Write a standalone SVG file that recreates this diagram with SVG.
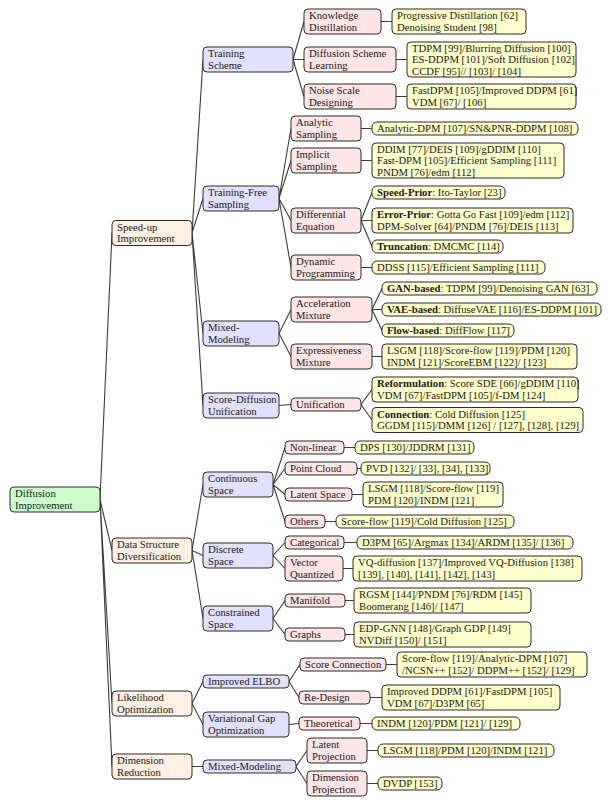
<svg xmlns="http://www.w3.org/2000/svg" width="612" height="807" viewBox="0 0 612 807">
<style>
rect{stroke:#2b2b2b;stroke-width:1}
.n0{fill:#ccffcc}.n1{fill:#fff0e1}.n2{fill:#e1e1ff}.n3{fill:#ffe5e5}.lf{fill:#ffffcc}
text{font-family:"Liberation Serif","Times New Roman",serif;font-size:10.7px;fill:#1a1a1a}
.b{font-weight:bold}
#edges path{fill:none;stroke:#3c3c3c;stroke-width:1.1}
</style>
<rect width="612" height="807" fill="#fff" style="stroke:none"/>
<g id="edges"><path d="M100,499.5L112,233M100,499.5L112,550.5M100,499.5L112,703.5M100,499.5L112,766.5
M192,233L203,59.5M192,233L203,198.5M192,233L203,333.5M192,233L203,405.5
M293,59.5L304,21.5M293,59.5L304,59.5M293,59.5L304,96.5
M381,21.5L392,21.5M396,59.5L407,59.5M396,96.5L407,96.5
M279,198.5L291,128.5M279,198.5L291,160.5M279,198.5L291,220.5M279,198.5L291,267.5
M361,128.5L372,128.5M361,160.5L372,160.5M361,267.5L372,267.5
M361,220.5L372,192.5M361,220.5L372,220.5M361,220.5L372,246.5
M279,333.5L291,309.5M279,333.5L291,356.5
M372,309.5L382,288.5M372,309.5L382,309.5M372,309.5L382,330.5M372,356.5L382,356.5
M279,405.5L291,404.5M361,404.5L372,389.5M361,404.5L372,420
M192,550.5L203,484.5M192,550.5L203,555.5M192,550.5L203,618.5
M273,484.5L285,447.5M273,484.5L285,468.5M273,484.5L285,494.5M273,484.5L285,521.5
M344,447.5L355,447.5M357,468.5L361,468.5M352,494.5L363,494.5M325,521.5L336,521.5
M273,555.5L285,542.5M273,555.5L285,568.5M344,542.5L357,542.5M343,568.5L353,568.5
M273,618.5L285,600.5M273,618.5L285,634.5M345,600.5L354,600.5M345,634.5L354,634.5
M192,703.5L203,681.5M192,703.5L203,724.5
M289,681.5L300,664.5M289,681.5L299,697.5M386,664.5L397,664.5M370,697.5L382,697.5
M289,724.5L299,723.5M360,723.5L372,723.5
M192,766.5L203,766.5M296,766.5L307,750.5M296,766.5L307,783.5
M367,750.5L378,750.5M367,783.5L378,783.5"/></g>

<g id="root"><rect class="n0" x="10" y="487" width="90" height="25" rx="4"/><text x="15" y="497">Diffusion</text><text x="15" y="508.5">Improvement</text></g>

<g id="speedup"><rect class="n1" x="112" y="220.5" width="80" height="25" rx="4"/><text x="117" y="230.5">Speed-up</text><text x="117" y="242">Improvement</text></g>
<g id="datastruct"><rect class="n1" x="112" y="538" width="80" height="25" rx="4"/><text x="117" y="548">Data Structure</text><text x="117" y="559.5">Diversification</text></g>
<g id="likelihood"><rect class="n1" x="112" y="691" width="80" height="25" rx="4"/><text x="117" y="701">Likelihood</text><text x="117" y="712.5">Optimization</text></g>
<g id="dimred"><rect class="n1" x="112" y="754" width="80" height="25" rx="4"/><text x="117" y="764">Dimension</text><text x="117" y="775.5">Reduction</text></g>

<g id="trainscheme"><rect class="n2" x="203" y="47" width="90" height="25" rx="4"/><text x="208" y="57">Training</text><text x="208" y="68.5">Scheme</text></g>
<g id="trainfree"><rect class="n2" x="203" y="186" width="76" height="25" rx="4"/><text x="208" y="196">Training-Free</text><text x="208" y="207.5">Sampling</text></g>
<g id="mixed1"><rect class="n2" x="203" y="321" width="76" height="25" rx="4"/><text x="208" y="331">Mixed-</text><text x="208" y="342.5">Modeling</text></g>
<g id="scorediff"><rect class="n2" x="203" y="393" width="76" height="25" rx="4"/><text x="208" y="403">Score-Diffusion</text><text x="208" y="414.5">Unification</text></g>
<g id="continuous"><rect class="n2" x="203" y="472" width="70" height="25" rx="4"/><text x="208" y="482">Continuous</text><text x="208" y="493.5">Space</text></g>
<g id="discrete"><rect class="n2" x="203" y="543" width="70" height="25" rx="4"/><text x="208" y="553">Discrete</text><text x="208" y="564.5">Space</text></g>
<g id="constrained"><rect class="n2" x="203" y="606" width="70" height="25" rx="4"/><text x="208" y="616">Constrained</text><text x="208" y="627.5">Space</text></g>
<g id="elbo"><rect class="n2" x="203" y="675" width="86" height="13" rx="4"/><text x="208" y="685">Improved ELBO</text></g>
<g id="vargap"><rect class="n2" x="203" y="712" width="86" height="25" rx="4"/><text x="208" y="722">Variational Gap</text><text x="208" y="733.5">Optimization</text></g>
<g id="mixed2"><rect class="n2" x="203" y="760" width="93" height="13" rx="4"/><text x="208" y="770">Mixed-Modeling</text></g>

<g id="knowdist"><rect class="n3" x="304" y="9" width="77" height="25" rx="4"/><text x="309" y="19">Knowledge</text><text x="309" y="30.5">Distillation</text></g>
<g id="dsl"><rect class="n3" x="304" y="47" width="92" height="25" rx="4"/><text x="309" y="57">Diffusion Scheme</text><text x="309" y="68.5">Learning</text></g>
<g id="nsd"><rect class="n3" x="304" y="84" width="92" height="25" rx="4"/><text x="309" y="94">Noise Scale</text><text x="309" y="105.5">Designing</text></g>
<g id="analytic"><rect class="n3" x="291" y="116" width="70" height="25" rx="4"/><text x="296" y="126">Analytic</text><text x="296" y="137.5">Sampling</text></g>
<g id="implicit"><rect class="n3" x="291" y="148" width="70" height="25" rx="4"/><text x="296" y="158">Implicit</text><text x="296" y="169.5">Sampling</text></g>
<g id="diffeq"><rect class="n3" x="291" y="208" width="70" height="25" rx="4"/><text x="296" y="218">Differential</text><text x="296" y="229.5">Equation</text></g>
<g id="dynprog"><rect class="n3" x="291" y="255" width="70" height="25" rx="4"/><text x="296" y="265">Dynamic</text><text x="296" y="276.5">Programming</text></g>
<g id="accmix"><rect class="n3" x="291" y="297" width="81" height="25" rx="4"/><text x="296" y="307">Acceleration</text><text x="296" y="318.5">Mixture</text></g>
<g id="expmix"><rect class="n3" x="291" y="344" width="81" height="25" rx="4"/><text x="296" y="354">Expressiveness</text><text x="296" y="365.5">Mixture</text></g>
<g id="unification"><rect class="n3" x="291" y="398" width="70" height="13" rx="4"/><text x="296" y="408">Unification</text></g>
<g id="nonlinear"><rect class="n3" x="285" y="441" width="59" height="13" rx="4"/><text x="290" y="451">Non-linear</text></g>
<g id="pointcloud"><rect class="n3" x="285" y="462" width="72" height="13" rx="4"/><text x="290" y="472">Point Cloud</text></g>
<g id="latentspace"><rect class="n3" x="285" y="488" width="67" height="13" rx="4"/><text x="290" y="498">Latent Space</text></g>
<g id="others"><rect class="n3" x="285" y="515" width="40" height="13" rx="4"/><text x="290" y="525">Others</text></g>
<g id="categorical"><rect class="n3" x="285" y="536" width="59" height="13" rx="4"/><text x="290" y="546">Categorical</text></g>
<g id="vq"><rect class="n3" x="285" y="556" width="58" height="25" rx="4"/><text x="290" y="566">Vector</text><text x="290" y="577.5">Quantized</text></g>
<g id="manifold"><rect class="n3" x="285" y="594" width="60" height="13" rx="4"/><text x="290" y="604">Manifold</text></g>
<g id="graphs"><rect class="n3" x="285" y="628" width="60" height="13" rx="4"/><text x="290" y="638">Graphs</text></g>
<g id="scoreconn"><rect class="n3" x="300" y="658" width="86" height="13" rx="4"/><text x="305" y="668">Score Connection</text></g>
<g id="redesign"><rect class="n3" x="299" y="691" width="71" height="13" rx="4"/><text x="304" y="701">Re-Design</text></g>
<g id="theoretical"><rect class="n3" x="299" y="717" width="61" height="13" rx="4"/><text x="304" y="727">Theoretical</text></g>
<g id="latentproj"><rect class="n3" x="307" y="738" width="60" height="25" rx="4"/><text x="312" y="748">Latent</text><text x="312" y="759.5">Projection</text></g>
<g id="dimproj"><rect class="n3" x="307" y="771" width="60" height="25" rx="4"/><text x="312" y="781">Dimension</text><text x="312" y="792.5">Projection</text></g>

<g id="leaf1"><rect class="lf" x="392" y="9" width="134" height="25" rx="4"/><text x="397" y="19">Progressive Distillation [62]</text><text x="397" y="30.5">Denoising Student [98]</text></g>
<g id="leaf2"><rect class="lf" x="407" y="42" width="169" height="35" rx="4"/><text x="412" y="51.5">TDPM [99]/Blurring Diffusion [100]</text><text x="412" y="63">ES-DDPM [101]/Soft Diffusion [102]</text><text x="412" y="74.5">CCDF [95]// [103]/ [104]</text></g>
<g id="leaf3"><rect class="lf" x="407" y="84" width="169" height="25" rx="4"/><text x="412" y="94">FastDPM [105]/Improved DDPM [61]</text><text x="412" y="105.5">VDM [67]/ [106]</text></g>
<g id="leaf4"><rect class="lf" x="372" y="122" width="206" height="13" rx="5"/><text x="377" y="132">Analytic-DPM [107]/SN&amp;PNR-DDPM [108]</text></g>
<g id="leaf5"><rect class="lf" x="372" y="143" width="192" height="35" rx="4"/><text x="377" y="152.5">DDIM [77]/DEIS [109]/gDDIM [110]</text><text x="377" y="164">Fast-DPM [105]/Efficient Sampling [111]</text><text x="377" y="175.5">PNDM [76]/edm [112]</text></g>
<g id="leaf6"><rect class="lf" x="372" y="186" width="133" height="13" rx="5"/><text x="377" y="196"><tspan class="b">Speed-Prior</tspan>: Ito-Taylor [23]</text></g>
<g id="leaf7"><rect class="lf" x="372" y="208" width="201" height="25" rx="4"/><text x="377" y="218"><tspan class="b">Error-Prior</tspan>: Gotta Go Fast [109]/edm [112]</text><text x="377" y="229.5">DPM-Solver [64]/PNDM [76]/DEIS [113]</text></g>
<g id="leaf8"><rect class="lf" x="372" y="240" width="131" height="13" rx="5"/><text x="377" y="250"><tspan class="b">Truncation</tspan>: DMCMC [114]</text></g>
<g id="leaf9"><rect class="lf" x="372" y="261" width="173" height="13" rx="5"/><text x="377" y="271">DDSS [115]/Efficient Sampling [111]</text></g>
<g id="leaf10"><rect class="lf" x="382" y="282" width="215" height="13" rx="5"/><text x="387" y="292"><tspan class="b">GAN-based</tspan>: TDPM [99]/Denoising GAN [63]</text></g>
<g id="leaf11"><rect class="lf" x="382" y="303" width="219" height="13" rx="5"/><text x="387" y="313"><tspan class="b">VAE-based</tspan>: DiffuseVAE [116]/ES-DDPM [101]</text></g>
<g id="leaf12"><rect class="lf" x="382" y="324" width="132" height="13" rx="5"/><text x="387" y="334"><tspan class="b">Flow-based</tspan>: DiffFlow [117]</text></g>
<g id="leaf13"><rect class="lf" x="382" y="344" width="195" height="25" rx="4"/><text x="387" y="354">LSGM [118]/Score-flow [119]/PDM [120]</text><text x="387" y="365.5">INDM [121]/ScoreEBM [122]/ [123]</text></g>
<g id="leaf14"><rect class="lf" x="372" y="377" width="206" height="25" rx="4"/><text x="377" y="387"><tspan class="b">Reformulation</tspan>: Score SDE [66]/gDDIM [110]</text><text x="377" y="398.5">VDM [67]/FastDPM [105]/f-DM [124]</text></g>
<g id="leaf15"><rect class="lf" x="372" y="407.5" width="211" height="25" rx="4"/><text x="377" y="417.5"><tspan class="b">Connection</tspan>: Cold Diffusion [125]</text><text x="377" y="429">GGDM [115]/DMM [126] / [127], [128], [129]</text></g>
<g id="leaf16"><rect class="lf" x="355" y="441" width="119" height="13" rx="5"/><text x="360" y="451">DPS [130]/JDDRM [131]</text></g>
<g id="leaf17"><rect class="lf" x="361" y="462" width="129" height="13" rx="5"/><text x="366" y="472">PVD [132]/ [33], [34], [133]</text></g>
<g id="leaf18"><rect class="lf" x="363" y="482" width="140" height="25" rx="4"/><text x="368" y="492">LSGM [118]/Score-flow [119]</text><text x="368" y="503.5">PDM [120]/INDM [121]</text></g>
<g id="leaf19"><rect class="lf" x="336" y="515" width="178" height="13" rx="5"/><text x="341" y="525">Score-flow [119]/Cold Diffusion [125]</text></g>
<g id="leaf20"><rect class="lf" x="357" y="536" width="216" height="13" rx="5"/><text x="362" y="546">D3PM [65]/Argmax [134]/ARDM [135]/ [136]</text></g>
<g id="leaf21"><rect class="lf" x="353" y="556" width="229" height="25" rx="4"/><text x="358" y="566">VQ-diffusion [137]/Improved VQ-Diffusion [138]</text><text x="358" y="577.5">[139], [140], [141], [142], [143]</text></g>
<g id="leaf22"><rect class="lf" x="354" y="588" width="177" height="25" rx="4"/><text x="359" y="598">RGSM [144]/PNDM [76]/RDM [145]</text><text x="359" y="609.5">Boomerang [146]/ [147]</text></g>
<g id="leaf23"><rect class="lf" x="354" y="622" width="177" height="25" rx="4"/><text x="359" y="632">EDP-GNN [148]/Graph GDP [149]</text><text x="359" y="643.5">NVDiff [150]/ [151]</text></g>
<g id="leaf24"><rect class="lf" x="397" y="652" width="190" height="25" rx="4"/><text x="402" y="662">Score-flow [119]/Analytic-DPM [107]</text><text x="402" y="673.5">/NCSN++ [152]/ DDPM++ [152]/ [129]</text></g>
<g id="leaf25"><rect class="lf" x="382" y="685" width="178" height="25" rx="4"/><text x="387" y="695">Improved DDPM [61]/FastDPM [105]</text><text x="387" y="706.5">VDM [67]/D3PM [65]</text></g>
<g id="leaf26"><rect class="lf" x="372" y="717" width="148" height="13" rx="5"/><text x="377" y="727">INDM [120]/PDM [121]/ [129]</text></g>
<g id="leaf27"><rect class="lf" x="378" y="744" width="176" height="13" rx="5"/><text x="383" y="754">LSGM [118]/PDM [120]/INDM [121]</text></g>
<g id="leaf28"><rect class="lf" x="378" y="777" width="64" height="13" rx="5"/><text x="383" y="787">DVDP [153]</text></g>
</svg>
